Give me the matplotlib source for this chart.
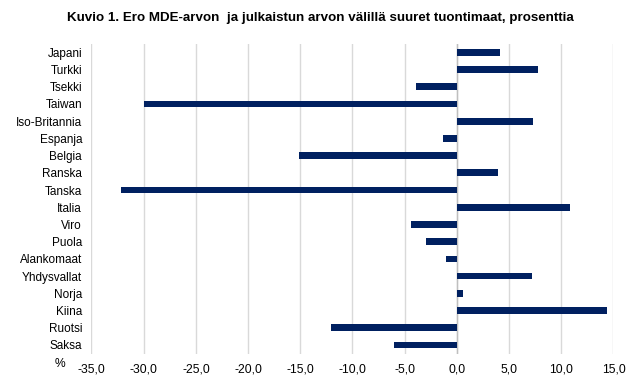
import numpy as np
import matplotlib.pyplot as plt

plt.rcParams['font.family'] = ['Liberation Sans', 'DejaVu Sans']

# data, top to bottom as in the chart
countries = ['Japani', 'Turkki', 'Tsekki', 'Taiwan', 'Iso-Britannia', 'Espanja',
             'Belgia', 'Ranska', 'Tanska', 'Italia', 'Viro', 'Puola',
             'Alankomaat', 'Yhdysvallat', 'Norja', 'Kiina', 'Ruotsi', 'Saksa']
values = [4.1, 7.8, -3.9, -30.0, 7.3, -1.35,
          -15.1, 3.9, -32.2, 10.8, -4.4, -3.0,
          -1.05, 7.2, 0.55, 14.4, -12.1, -6.05]
xticks = np.arange(-35, 16, 5)
xlabels = ['%.1f' % t for t in xticks]
xlabels = [s.replace('.', ',') for s in xlabels]

fig = plt.figure(figsize=(6.43, 3.78), dpi=100)
ax = fig.add_axes([0.1423, 0.0646, 0.8118, 0.8198])

y = np.arange(len(countries))
ax.barh(y, values, height=0.39, color='#002060', zorder=3)

ax.set_xlim(-35, 15)
ax.set_ylim(len(countries) - 0.5, -0.5)
ax.set_xticks(xticks)
ax.set_xticklabels(xlabels, fontsize=8.7)
ax.set_yticks(y)
ax.set_yticklabels(countries, fontsize=8.5)
ax.tick_params(axis='both', length=0)
ax.tick_params(axis='y', pad=6.8)
ax.tick_params(axis='x', pad=7)

ax.grid(axis='x', color='#d9d9d9', linewidth=1, zorder=0)
for s in ax.spines.values():
    s.set_visible(False)
ax.axvline(0, color='#bfbfbf', linewidth=1, zorder=2)

fig.text(0.499, 0.952, 'Kuvio 1. Ero MDE-arvon  ja julkaistun arvon välillä suuret tuontimaat, prosenttia',
         ha='center', va='center', fontsize=9.6, fontweight='bold')
fig.text(0.093, 0.037, '%', ha='center', va='center', fontsize=8.7)

fig.savefig('out.png', dpi=100)
